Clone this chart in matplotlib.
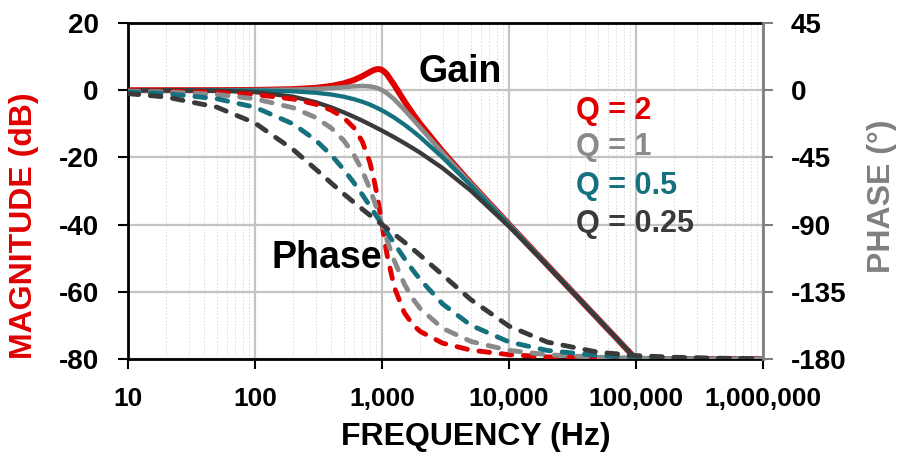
import matplotlib
matplotlib.use('Agg')
import matplotlib.pyplot as plt
from matplotlib.ticker import LogLocator, FixedLocator, FixedFormatter, NullFormatter

plt.rcParams['font.family'] = ['Liberation Sans', 'DejaVu Sans']
plt.rcParams['font.weight'] = 'bold'
plt.rcParams['axes.unicode_minus'] = False

# frequency points (Hz)
freq = [10, 20, 50, 100, 200, 300, 400, 500, 600, 700, 800, 850, 900, 950, 1000,
        1050, 1100, 1250, 1500, 1750, 2000, 3000, 5000, 10000, 20000, 50000,
        100000, 200000, 500000, 1000000]

# magnitude (dB)
gain_q2 = [0, 0, 0.02, 0.08, 0.31, 0.70, 1.27, 2.04, 3.01, 4.17, 5.38, 5.89, 6.22, 6.29, 6.02,
           5.43, 4.60, 1.51, -3.27, -7.01, -10.0, -18.21, -27.65, -39.92, -52.02, -67.96,
           -80, -80, -80, -80]
gain_q1 = [0, 0, 0.01, 0.04, 0.17, 0.37, 0.63, 0.90, 1.14, 1.25, 1.14, 0.97, 0.73, 0.40, 0,
           -0.47, -0.98, -2.74, -5.81, -8.64, -11.14, -18.63, -27.79, -39.96, -52.03, -67.96,
           -80, -80, -80, -80]
gain_q05 = [0, 0, -0.01, -0.09, -0.34, -0.75, -1.29, -1.94, -2.67, -3.44, -4.25, -4.72, -5.13, -5.59, -6.02,
            -6.45, -6.89, -8.17, -10.24, -12.18, -13.98, -20.0, -28.30, -40.09, -52.06, -67.96,
            -80, -80, -80, -80]
gain_q025 = [-0.01, -0.02, -0.15, -0.57, -1.94, -3.56, -5.14, -6.59, -7.90, -9.08, -10.16, -10.66, -11.14, -11.60, -12.04,
             -12.47, -12.88, -14.03, -15.75, -17.26, -18.63, -23.18, -29.89, -40.57, -52.19, -67.98,
             -80, -80, -80, -80]

# phase (degrees)
phase_q2 = [-0.29, -0.57, -1.44, -2.89, -5.95, -9.36, -13.39, -18.43, -25.11, -34.46, -48.01, -56.85, -67.11, -78.4, -90,
            -101.05, -110.9, -132.0, -149.04, -157.01, -161.57, -169.38, -174.05, -177.11, -178.56, -179.43,
            -179.71, -179.86, -179.94, -179.97]
phase_q1 = [-0.57, -1.15, -2.87, -5.77, -11.77, -18.25, -25.46, -33.69, -43.15, -53.92, -65.77, -71.92, -78.08, -84.14, -90,
            -95.58, -100.81, -114.23, -129.81, -139.69, -146.31, -159.44, -168.23, -174.23, -177.13, -178.85,
            -179.43, -179.71, -179.89, -179.94]
phase_q05 = [-1.15, -2.29, -5.72, -11.42, -22.62, -33.40, -43.60, -53.13, -61.93, -69.98, -77.32, -80.73, -83.97, -87.02, -90,
             -92.97, -95.45, -102.68, -112.62, -120.51, -126.87, -143.13, -157.38, -168.58, -174.28, -177.71,
             -178.85, -179.43, -179.77, -179.89]
phase_q025 = [-2.29, -4.58, -11.34, -22.0, -39.81, -52.83, -62.30, -69.44, -75.07, -79.68, -83.58, -85.33, -86.98, -88.53, -90,
              -91.4, -92.73, -96.42, -101.77, -106.42, -110.56, -123.69, -140.19, -158.0, -168.66, -175.42,
              -177.71, -178.85, -179.54, -179.77]

q_labels = ['Q = 2', 'Q = 1', 'Q = 0.5', 'Q = 0.25']
colors = ['#E00000', '#8A8A8A', '#16717F', '#3A3A3A']

x_ticks = [10, 100, 1000, 10000, 100000, 1000000]
x_tick_labels = ['10', '100', '1,000', '10,000', '100,000', '1,000,000']
mag_ticks = [-80, -60, -40, -20, 0, 20]
phase_ticks = [-180, -135, -90, -45, 0, 45]

fig = plt.figure(figsize=(9.02, 4.55), dpi=100)
ax = fig.add_axes([128 / 902, 1 - 359 / 455, (763 - 128) / 902, (359 - 23) / 455])
ax2 = ax.twinx()

# gain curves (solid)
gains = [gain_q2, gain_q1, gain_q05, gain_q025]
widths = [4.3, 3.3, 3.1, 3.1]
for g, c, w in zip(gains, colors, widths):
    ax.plot(freq, g, color=c, lw=w, solid_capstyle='round', solid_joinstyle='round')

# phase curves (dashed, rounded dashes)
phases = [phase_q2, phase_q1, phase_q05, phase_q025]
for p, c in zip(phases, colors):
    ax2.plot(freq, p, color=c, lw=3.5, dashes=(2.2, 2.4), dash_capstyle='round')

ax.set_xscale('log')
ax.set_xlim(10, 1e6)
ax.set_ylim(-80, 20)
ax2.set_ylim(-180, 45)

ax.xaxis.set_major_locator(FixedLocator(x_ticks))
ax.xaxis.set_major_formatter(FixedFormatter(x_tick_labels))
ax.xaxis.set_minor_locator(LogLocator(base=10, subs=range(2, 10)))
ax.xaxis.set_minor_formatter(NullFormatter())
ax.set_yticks(mag_ticks)
ax2.set_yticks(phase_ticks)

ax.grid(which='major', axis='both', color='#C4C4C4', lw=1.6)
ax.grid(which='minor', axis='x', color='#D8D8D8', lw=0.7, ls=(0, (1.5, 2)))
ax.set_axisbelow(True)

ax.tick_params(axis='x', which='major', length=7, width=1.5, labelsize=19, pad=13)
ax.tick_params(axis='x', which='minor', length=0)
ax.tick_params(axis='y', length=7, width=1.5, labelsize=20, pad=14)
ax2.tick_params(axis='y', length=7, width=1.5, labelsize=20, pad=13, color='#808080')

for lab in ax.get_xticklabels() + ax.get_yticklabels() + ax2.get_yticklabels():
    lab.set_fontweight('bold')

for side in ['left', 'bottom', 'top']:
    ax.spines[side].set_linewidth(2)
    ax.spines[side].set_color('black')
    ax2.spines[side].set_visible(False)
ax.spines['right'].set_visible(False)
ax2.spines['right'].set_color('#808080')
ax2.spines['right'].set_linewidth(2)

# axis titles
fig.text(476 / 902, 1 - 437 / 455, 'FREQUENCY (Hz)', ha='center', va='center',
         fontsize=23, fontweight='bold')
fig.text(24 / 902, 1 - 226 / 455, 'MAGNITUDE (dB)', ha='center', va='center',
         rotation=90, fontsize=23, fontweight='bold', color='#E00000')
fig.text(882 / 902, 1 - 196 / 455, 'PHASE (°)', ha='center', va='center',
         rotation=90, fontsize=23, fontweight='bold', color='#808080')

# annotations
ax.text(0.523, 0.854, 'Gain', transform=ax.transAxes, ha='center', va='center',
        fontsize=27, fontweight='bold')
ax.text(0.313, 0.30, 'Phase', transform=ax.transAxes, ha='center', va='center',
        fontsize=27, fontweight='bold')

legend_y = [111, 147, 186, 224]
for lab, c, yy in zip(q_labels, colors, legend_y):
    fig.text(576 / 902, 1 - yy / 455, lab, ha='left', va='center',
             fontsize=22, fontweight='bold', color=c)

fig.savefig('out.png', dpi=100)
